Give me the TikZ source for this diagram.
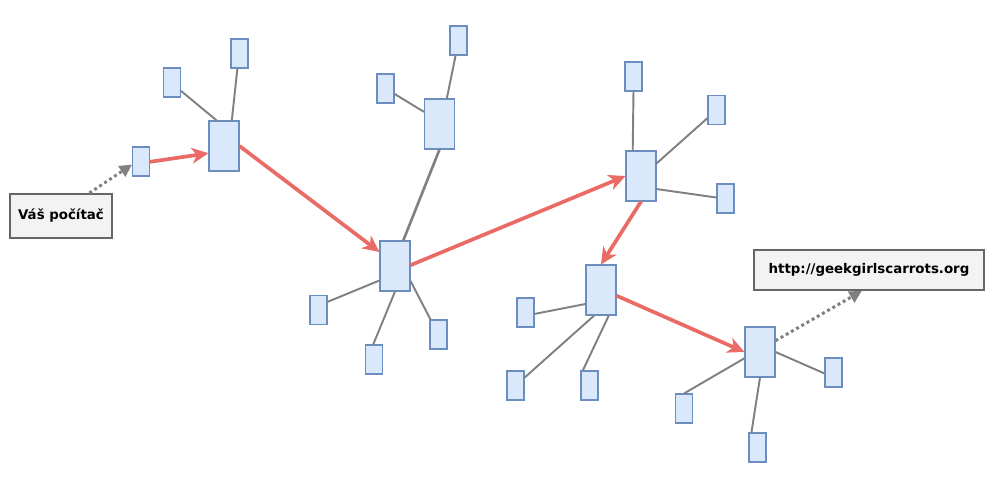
\documentclass[tikz,border=0pt]{standalone}
\usepackage{fontspec}
\setmainfont{DejaVu Sans}
\usetikzlibrary{arrows.meta}
\definecolor{nodefill}{HTML}{DAE8FC}
\definecolor{nodeline}{HTML}{6C8EBF}
\definecolor{hopred}{HTML}{EA6B66}
\definecolor{linkgray}{HTML}{808080}
\definecolor{lblfill}{HTML}{F3F3F3}
\definecolor{lblline}{HTML}{666666}

\begin{document}
\begin{tikzpicture}[
    x=0.02cm, y=-0.02cm,
    leaf/.style={draw=nodeline, fill=nodefill, line width=0.6pt, inner sep=0pt,
                 minimum width=0.34cm, minimum height=0.58cm},
    hub/.style={leaf, minimum width=0.6cm, minimum height=1.0cm},
    lbl/.style={draw=lblline, fill=lblfill, line width=1.1pt, inner sep=0pt,
                font=\fontsize{7.6}{9}\selectfont\bfseries},
    link/.style={linkgray, line width=1.1pt},
    hop/.style={hopred, line width=2.1pt, -{Stealth[length=9.5pt, width=9pt, inset=2.8pt]}},
    hint/.style={linkgray, line width=1.7pt, dash pattern=on 1.7pt off 1.7pt,
                 -{Triangle[length=7pt, width=7pt]}},
  ]
  \useasboundingbox (0,0) rectangle (995,484);

  % route hubs
  \node[leaf] (pc0) at (141,161.5) {};
  \node[hub]  (r1)  at (224,146) {};
  \node[hub]  (r2)  at (395,266) {};
  \node[hub]  (r2u) at (439.5,124) {};
  \node[hub]  (r3)  at (641,176) {};
  \node[hub]  (r4)  at (601,290) {};
  \node[hub]  (r5)  at (760,352) {};

  % side nodes
  \node[leaf] (r1a)  at (172,82.5) {};
  \node[leaf] (r1b)  at (239.5,53.5) {};
  \node[leaf] (r2ua) at (385.5,88.5) {};
  \node[leaf] (r2ub) at (458.5,40.5) {};
  \node[leaf] (r2a)  at (318.5,310) {};
  \node[leaf] (r2b)  at (374,359.5) {};
  \node[leaf] (r2c)  at (438.5,334.5) {};
  \node[leaf] (r3a)  at (633.5,76.5) {};
  \node[leaf] (r3b)  at (716.5,110) {};
  \node[leaf] (r3c)  at (725.5,198.5) {};
  \node[leaf] (r4a)  at (525.5,312.5) {};
  \node[leaf] (r4b)  at (515.5,385.5) {};
  \node[leaf] (r4c)  at (589.5,385.5) {};
  \node[leaf] (r5a)  at (833.5,372.5) {};
  \node[leaf] (r5b)  at (684,408.5) {};
  \node[leaf] (r5c)  at (757.5,447.5) {};

  % labels
  \node[lbl, minimum width=2.04cm, minimum height=0.88cm] (pc) at (61,216) {Váš počítač};
  \node[lbl, minimum width=4.6cm, minimum height=0.8cm] (web) at (869,270)
    {http://geekgirlscarrots.org};

  % plain links (border angles)
  \foreach \a/\b in {r1.106/r1a.-43, r1.73/r1b.-98, r2u.142/r2ua.-31, r2u.74/r2ub.-101,
                     r2.-137/r2a.42, r2.-90/r2b.93, r2.-44/r2c.118,
                     r3.108/r3a.-90, r3.39/r3b.-138, r3.-40/r3c.174,
                     r4.-138/r4a.-9, r4.-105/r4b.41, r4.-73/r4c.114,
                     r5.0/r5a.-174, r5.-158/r5b.90, r5.-90/r5c.112}
    \draw[link] (\a) -- (\b);
  \draw[link, line width=1.5pt] (r2u.-90) -- (r2.72);

  % the route
  \draw[hop] (pc0.-2) -- (r1.-155);
  \draw[hop] (r1.east) -- (r2.138);
  \draw[hop] (r2.3) -- (r3.180);
  \draw[hop] (r3.-90) -- (r4.90);
  \draw[hop] (r4.-20) -- (r5.180);

  % label pointers
  \draw[hint] (pc.39) -- (pc0.-161);
  \draw[hint] (r5.36) -- (web.-109);
\end{tikzpicture}
\end{document}
